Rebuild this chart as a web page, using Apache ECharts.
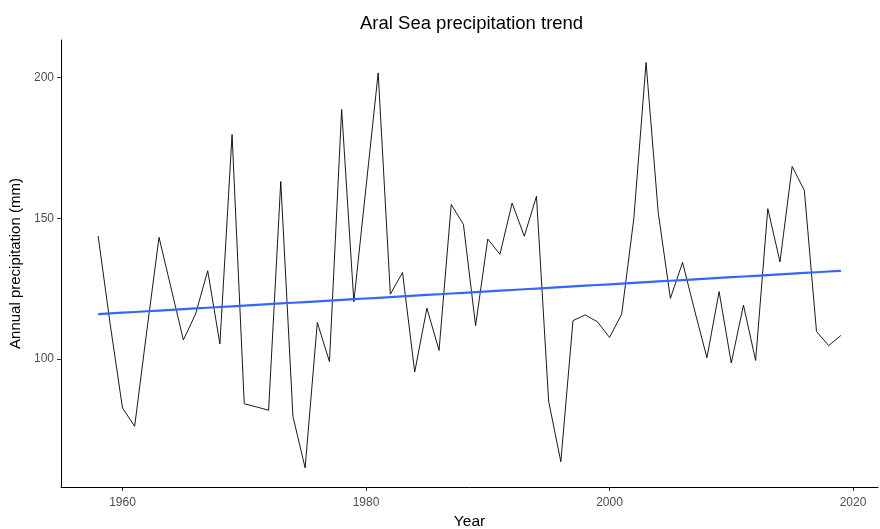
<!DOCTYPE html>
<html>
<head>
<meta charset="utf-8">
<script src="https://cdn.jsdelivr.net/npm/echarts@6/dist/echarts.min.js"></script>
<style>
  html, body { margin: 0; padding: 0; background: #fff; }
  #chart { width: 880px; height: 529px; }
</style>
</head>
<body>
<div id="chart"></div>
<script>
// Annual precipitation over the Aral Sea basin, 1958-2019 (mm)
const years = [
  1958, 1959, 1960, 1961, 1962, 1963, 1964, 1965, 1966, 1967,
  1968, 1969, 1970, 1971, 1972, 1973, 1974, 1975, 1976, 1977,
  1978, 1979, 1980, 1981, 1982, 1983, 1984, 1985, 1986, 1987,
  1988, 1989, 1990, 1991, 1992, 1993, 1994, 1995, 1996, 1997,
  1998, 1999, 2000, 2001, 2002, 2003, 2004, 2005, 2006, 2007,
  2008, 2009, 2010, 2011, 2012, 2013, 2014, 2015, 2016, 2017,
  2018, 2019
];
const precipitation = [
  143.7, 112.0, 82.5, 76.0, 110.0, 143.2, 125.0, 106.7, 115.9, 131.3,
  105.3, 179.8, 84.0, 82.9, 81.7, 163.1, 79.5, 61.2, 112.9, 99.0,
  188.7, 120.3, 161.0, 201.7, 123.0, 130.7, 95.3, 118.0, 103.0, 154.9,
  147.8, 111.8, 142.6, 137.2, 155.4, 143.6, 157.8, 84.9, 63.4, 113.6,
  115.6, 113.2, 107.6, 115.9, 150.0, 205.4, 152.0, 121.5, 134.3, 117.0,
  100.4, 123.9, 98.5, 119.1, 99.4, 153.4, 134.5, 168.4, 159.9, 109.7,
  104.7, 108.3
];
const yTicks = [100, 150, 200];
const xTicks = [1960, 1980, 2000, 2020];

// Ordinary least squares fit for the trend line
function linearFit(xs, ys) {
  const n = xs.length;
  const mx = xs.reduce((a, b) => a + b, 0) / n;
  const my = ys.reduce((a, b) => a + b, 0) / n;
  let sxy = 0, sxx = 0;
  for (let i = 0; i < n; i++) {
    sxy += (xs[i] - mx) * (ys[i] - my);
    sxx += (xs[i] - mx) * (xs[i] - mx);
  }
  const slope = sxy / sxx;
  return { slope, intercept: my - slope * mx };
}
const fit = linearFit(years, precipitation);
const trend = years.map(y => [y, fit.intercept + fit.slope * y]);
const series = years.map((y, i) => [y, precipitation[i]]);

const font = 'Liberation Sans, Arial, sans-serif';
const chart = echarts.init(document.getElementById('chart'), null, { renderer: 'canvas' });
chart.setOption({
  animation: false,
  backgroundColor: '#ffffff',
  title: {
    text: 'Aral Sea precipitation trend',
    left: 355, top: 9,
    textStyle: { fontFamily: font, fontSize: 18.5, fontWeight: 'normal', color: '#000' }
  },
  grid: { left: 61, right: 2, top: 40, bottom: 42, containLabel: false, outerBoundsMode: 'none' },
  xAxis: {
    type: 'value', min: 1954.95, max: 2022.05,
    name: 'Year', nameLocation: 'middle', nameGap: 26,
    nameTextStyle: { fontFamily: font, fontSize: 15.5, color: '#000' },
    axisLine: { show: true, onZero: false, lineStyle: { color: '#000', width: 1 } },
    axisTick: { show: true, length: 4, customValues: xTicks, lineStyle: { color: '#333' } },
    axisLabel: {
      customValues: xTicks, fontFamily: font, fontSize: 12, color: '#4d4d4d', margin: 10,
      formatter: v => String(v)
    },
    splitLine: { show: false }
  },
  yAxis: {
    type: 'value', min: 54.4, max: 213.4,
    name: 'Annual precipitation (mm)', nameLocation: 'middle', nameGap: 35, nameRotate: 90,
    nameTextStyle: { fontFamily: font, fontSize: 15, color: '#000' },
    axisLine: { show: true, onZero: false, lineStyle: { color: '#000', width: 1 } },
    axisTick: { show: true, length: 4, customValues: yTicks, lineStyle: { color: '#333' } },
    axisLabel: {
      customValues: yTicks, fontFamily: font, fontSize: 12, color: '#4d4d4d', margin: 7,
      formatter: v => String(v)
    },
    splitLine: { show: false }
  },
  series: [
    {
      type: 'line', data: series, showSymbol: false,
      lineStyle: { color: '#000', width: 0.9 }
    },
    {
      type: 'line', data: trend, showSymbol: false,
      lineStyle: { color: '#3366FF', width: 2.2 }
    }
  ]
});
</script>
</body>
</html>
